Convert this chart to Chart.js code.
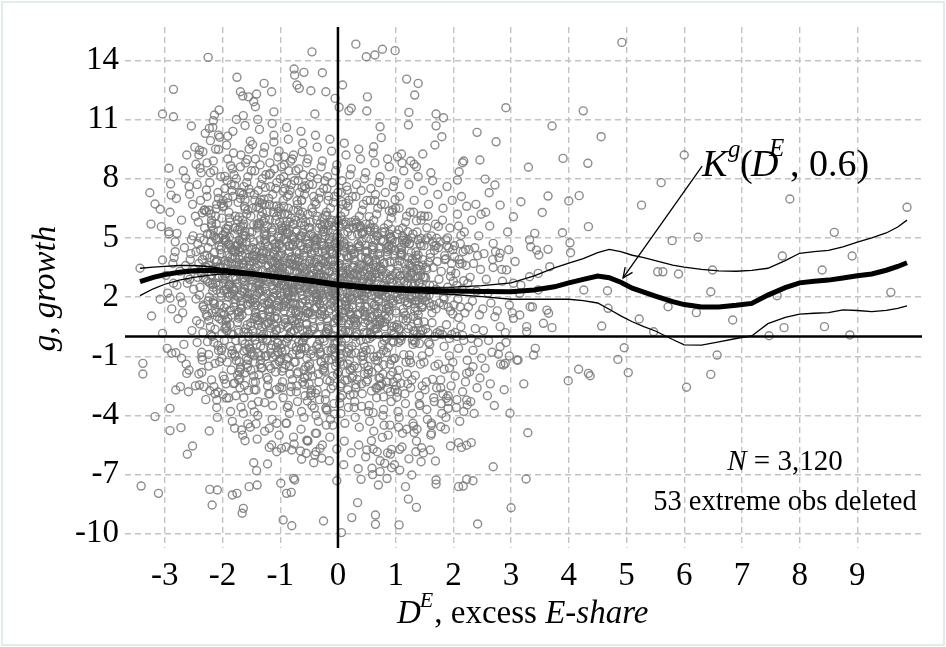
<!DOCTYPE html>
<html>
<head>
<meta charset="utf-8">
<script src="https://cdn.jsdelivr.net/npm/chart.js@4.4.1/dist/chart.umd.min.js"></script>
<style>
html,body{margin:0;padding:0;background:#fff;}
#wrap{width:946px;height:647px;position:relative;}
</style>
</head>
<body>
<div id="wrap"><canvas id="c" width="946" height="647"></canvas></div>
<script>
// ---------- DATA ----------
const xTicks = [-3,-2,-1,0,1,2,3,4,5,6,7,8,9];
const yTicks = [-10,-7,-4,-1,2,5,8,11,14];
const xRange = [-3.69, 10.12];
const yRange = [-10.72, 15.69];

// kernel regression K^g(D^E, 0.6) with its band
const kernelX     = [-3.43,-3.2,-3.0,-2.75,-2.5,-2.25,-2.0,-1.5,-1.0,-0.5,0,0.5,1.0,1.5,2.0,2.5,3.0,3.4,3.75,4.0,4.25,4.5,4.7,4.9,5.1,5.3,5.5,5.8,6.0,6.3,6.6,6.9,7.17,7.45,7.75,8.0,8.25,8.5,8.75,9.0,9.25,9.5,9.7,9.86];
const kernelFit   = [2.78,3.0,3.14,3.26,3.33,3.36,3.33,3.18,3.0,2.84,2.62,2.48,2.4,2.34,2.31,2.28,2.27,2.36,2.52,2.72,2.9,3.07,2.98,2.75,2.45,2.25,2.05,1.77,1.62,1.5,1.5,1.58,1.68,2.1,2.48,2.72,2.8,2.86,2.97,3.08,3.17,3.36,3.55,3.74];
const kernelUpper = [3.46,3.52,3.56,3.6,3.6,3.55,3.45,3.28,3.1,2.95,2.74,2.6,2.53,2.49,2.5,2.58,2.72,3.08,3.48,3.72,3.95,4.25,4.42,4.3,4.12,4.0,3.85,3.62,3.52,3.4,3.33,3.31,3.35,3.46,3.85,4.22,4.3,4.37,4.55,4.78,5.0,5.25,5.55,5.9];
const kernelLower = [2.07,2.42,2.65,2.86,3.0,3.1,3.18,3.07,2.9,2.72,2.5,2.36,2.27,2.2,2.13,2.02,1.89,1.89,1.9,1.89,1.82,1.7,1.38,1.05,0.75,0.5,0.28,-0.15,-0.42,-0.44,-0.27,-0.1,0.03,0.65,0.97,1.14,1.18,1.21,1.35,1.32,1.26,1.33,1.43,1.55];

const observations = [
[-2.98,3.1],[-2.93,5.2],[-2.88,1.4],[-2.84,4.0],[-2.96,-0.6],[-2.79,2.6],[-2.91,6.3],[-2.86,3.7],[-2.77,0.9],[-2.82,4.8],[-2.95,2.2],[-2.8,7.0],
[-2.74,3.3],[-2.71,5.9],[-2.69,1.2],[-2.66,4.5],[-2.63,-1.4],[-2.61,2.7],[-2.58,7.6],[-2.56,3.9],[-2.53,0.3],[-2.51,5.1],[-2.73,2.0],[-2.68,8.4],[-2.64,3.6],[-2.59,-2.8],[-2.55,4.2],[-2.52,6.7],[-2.7,1.7],[-2.62,9.2],[-2.57,2.9],[-2.67,-0.4],[-2.54,4.9],[-2.6,3.0],
[-2.49,3.4],[-2.47,6.1],[-2.45,0.8],[-2.43,4.7],[-2.41,-1.9],[-2.39,2.5],[-2.37,8.3],[-2.35,3.9],[-2.33,1.6],[-2.31,5.5],[-2.29,-3.2],[-2.27,7.1],[-2.26,2.8],[-2.48,9.6],[-2.46,4.3],[-2.44,-0.3],[-2.42,5.8],[-2.4,2.1],[-2.38,6.9],[-2.36,3.2],[-2.34,0.2],[-2.32,4.9],[-2.3,10.3],[-2.28,1.1],[-2.26,5.2],[-2.5,2.4],[-2.47,-2.5],[-2.44,7.7],[-2.41,3.7],[-2.38,4.4],[-2.35,-1.2],[-2.32,6.4],[-2.29,2.9],[-2.27,8.8],[-2.46,1.9],[-2.43,3.0],[-2.39,5.0],[-2.36,-0.8],[-2.31,4.1],[-2.28,3.5],
[-2.24,3.6],[-2.23,6.4],[-2.21,0.5],[-2.2,4.8],[-2.19,-2.2],[-2.17,2.3],[-2.16,8.9],[-2.14,3.9],[-2.13,1.4],[-2.11,5.7],[-2.1,-3.6],[-2.08,7.3],[-2.07,2.6],[-2.05,10.1],[-2.04,4.4],[-2.02,-0.7],[-2.01,6.0],[-2.25,1.8],[-2.22,7.8],[-2.2,3.1],[-2.18,0.0],[-2.15,5.1],[-2.12,9.5],[-2.09,1.0],[-2.06,4.6],[-2.03,2.2],[-2.24,-1.5],[-2.21,8.3],[-2.18,3.4],[-2.16,5.4],[-2.13,-2.9],[-2.1,6.7],[-2.08,3.0],[-2.05,0.9],[-2.02,4.2],[-2.23,2.0],[-2.19,5.9],[-2.15,-0.3],[-2.11,3.8],[-2.07,7.0],[-2.04,1.6],[-2.22,4.0],[-2.17,10.6],[-2.12,2.7],[-2.06,5.0],[-2.01,-1.1],[-2.2,6.2],[-2.14,3.3],[-2.09,-4.1],[-2.03,8.1],[-2.25,4.5],[-2.18,1.2],[-2.1,4.9],[-2.05,3.5],[-2.16,2.5],
[-1.99,3.5],[-1.98,6.6],[-1.96,0.4],[-1.95,4.9],[-1.94,-2.4],[-1.92,2.2],[-1.91,9.0],[-1.9,3.8],[-1.88,1.3],[-1.87,5.8],[-1.86,-3.8],[-1.84,7.4],[-1.83,2.5],[-1.82,10.4],[-1.8,4.3],[-1.79,-0.9],[-1.78,6.1],[-1.77,1.7],[-1.76,8.0],[-2.0,3.0],[-1.97,-0.2],[-1.95,5.3],[-1.93,9.7],[-1.91,0.9],[-1.89,4.7],[-1.87,2.1],[-1.85,-1.7],[-1.83,8.5],[-1.81,3.4],[-1.79,5.5],[-1.77,-3.0],[-1.99,6.9],[-1.96,3.1],[-1.94,0.8],[-1.92,4.1],[-1.9,2.0],[-1.88,6.0],[-1.86,-0.5],[-1.84,3.7],[-1.82,7.1],[-1.8,1.5],[-1.78,4.0],[-1.76,11.0],[-1.98,2.7],[-1.95,5.0],[-1.92,-1.3],[-1.89,6.3],[-1.86,3.3],[-1.83,-4.3],[-1.8,8.2],[-1.77,4.6],[-1.97,1.1],[-1.94,4.8],[-1.91,3.6],[-1.88,2.6],[-1.85,7.7],[-1.82,0.1],[-1.79,5.2],[-1.76,2.9],[-1.99,-2.0],[-1.96,7.5],[-1.93,2.4],[-1.9,5.6],[-1.87,0.6],[-1.84,4.4],[-1.81,9.3],[-1.78,-1.0],[-1.93,3.2],[-1.85,4.5],[-1.8,2.3],
[-1.74,3.4],[-1.73,6.8],[-1.72,0.2],[-1.71,4.9],[-1.7,-2.6],[-1.69,2.1],[-1.68,9.2],[-1.67,3.7],[-1.66,1.1],[-1.65,5.9],[-1.64,-3.9],[-1.63,7.6],[-1.62,2.4],[-1.61,10.7],[-1.6,4.2],[-1.59,-1.1],[-1.58,6.2],[-1.57,1.6],[-1.56,8.1],[-1.55,3.0],[-1.54,-0.4],[-1.53,5.3],[-1.52,9.9],[-1.51,0.7],[-1.75,4.6],[-1.73,2.0],[-1.71,-1.8],[-1.69,8.6],[-1.67,3.3],[-1.65,5.6],[-1.63,-3.1],[-1.61,6.9],[-1.59,3.1],[-1.57,0.6],[-1.55,4.0],[-1.53,1.9],[-1.51,6.1],[-1.74,-0.6],[-1.72,3.6],[-1.7,7.3],[-1.68,1.4],[-1.66,4.1],[-1.64,11.2],[-1.62,2.8],[-1.6,5.1],[-1.58,-1.4],[-1.56,6.4],[-1.54,3.2],[-1.52,-4.6],[-1.5,8.4],[-1.73,4.7],[-1.7,1.0],[-1.67,4.5],[-1.64,3.5],[-1.61,2.6],[-1.58,7.8],[-1.55,0.0],[-1.52,5.0],[-1.75,2.7],[-1.72,-2.2],[-1.69,7.0],[-1.66,2.3],[-1.63,5.7],[-1.6,0.4],[-1.57,4.4],[-1.54,9.5],[-1.51,-0.9],[-1.71,3.9],[-1.65,-5.0],[-1.59,4.8],[-1.53,2.2],[-1.74,5.4],[-1.68,1.8],[-1.62,6.6],[-1.56,2.5],[-1.5,3.8],[-1.66,-0.2],[-1.6,8.8],[-1.55,1.3],[-1.7,4.3],
[-1.49,3.2],[-1.48,6.5],[-1.47,0.0],[-1.46,4.8],[-1.45,-2.7],[-1.44,1.9],[-1.43,9.0],[-1.42,3.5],[-1.41,1.0],[-1.4,5.7],[-1.39,-4.0],[-1.38,7.4],[-1.37,2.2],[-1.36,10.5],[-1.35,4.0],[-1.34,-1.2],[-1.33,6.1],[-1.32,1.5],[-1.31,8.0],[-1.3,2.9],[-1.29,-0.6],[-1.28,5.2],[-1.27,9.6],[-1.26,0.6],[-1.5,4.4],[-1.48,1.8],[-1.46,-2.0],[-1.44,8.4],[-1.42,3.1],[-1.4,5.5],[-1.38,-3.3],[-1.36,6.8],[-1.34,3.0],[-1.32,0.5],[-1.3,3.9],[-1.28,1.7],[-1.26,6.0],[-1.49,-0.8],[-1.47,3.4],[-1.45,7.2],[-1.43,1.2],[-1.41,4.0],[-1.39,11.0],[-1.37,2.6],[-1.35,4.9],[-1.33,-1.6],[-1.31,6.3],[-1.29,3.0],[-1.27,-4.8],[-1.25,8.2],[-1.48,4.5],[-1.45,0.9],[-1.42,4.3],[-1.39,3.3],[-1.36,2.4],[-1.33,7.7],[-1.3,-0.1],[-1.27,4.9],[-1.5,2.5],[-1.47,-2.3],[-1.44,6.9],[-1.41,2.1],[-1.38,5.6],[-1.35,0.3],[-1.32,4.2],[-1.29,9.3],[-1.26,-1.0],[-1.46,3.8],[-1.4,-5.2],[-1.34,4.6],[-1.28,2.0],[-1.49,5.3],[-1.43,1.6],[-1.37,6.5],[-1.31,2.3],[-1.25,3.6],[-1.41,-0.4],[-1.35,8.7],[-1.3,1.1],[-1.45,4.1],[-1.38,2.8],[-1.33,3.7],[-1.27,6.7],[-1.44,-1.3],[-1.36,0.8],
[-1.24,3.0],[-1.23,6.3],[-1.22,-0.2],[-1.21,4.6],[-1.2,-2.9],[-1.19,1.7],[-1.18,8.8],[-1.17,3.3],[-1.16,0.8],[-1.15,5.5],[-1.14,-4.2],[-1.13,7.2],[-1.12,2.0],[-1.11,10.2],[-1.1,3.8],[-1.09,-1.4],[-1.08,5.9],[-1.07,1.3],[-1.06,7.8],[-1.05,2.7],[-1.04,-0.8],[-1.03,5.0],[-1.02,9.4],[-1.01,0.4],[-1.25,4.2],[-1.23,1.6],[-1.21,-2.2],[-1.19,8.2],[-1.17,2.9],[-1.15,5.3],[-1.13,-3.5],[-1.11,6.6],[-1.09,2.8],[-1.07,0.3],[-1.05,3.7],[-1.03,1.5],[-1.01,5.8],[-1.24,-1.0],[-1.22,3.2],[-1.2,7.0],[-1.18,1.0],[-1.16,3.8],[-1.14,10.8],[-1.12,2.4],[-1.1,4.7],[-1.08,-1.8],[-1.06,6.1],[-1.04,2.8],[-1.02,-5.0],[-1.0,8.0],[-1.23,4.3],[-1.2,0.7],[-1.17,4.1],[-1.14,3.1],[-1.11,2.2],[-1.08,7.5],[-1.05,-0.3],[-1.02,4.7],[-1.25,2.3],[-1.22,-2.5],[-1.19,6.7],[-1.16,1.9],[-1.13,5.4],[-1.1,0.1],[-1.07,4.0],[-1.04,9.1],[-1.01,-1.2],[-1.21,3.6],[-1.15,-5.5],[-1.09,4.4],[-1.03,1.8],[-1.24,5.1],[-1.18,1.4],[-1.12,6.3],[-1.06,2.1],[-1.0,3.4],[-1.16,-0.6],[-1.1,8.5],[-1.05,0.9],[-1.2,3.9],[-1.13,2.6],[-1.08,3.5],[-1.02,6.5],[-1.19,-1.5],[-1.11,0.6],[-1.22,5.6],[-1.14,4.9],[-1.07,-2.7],[-1.03,2.5],[-1.17,7.6],
[-0.99,2.9],[-0.98,6.2],[-0.97,-0.4],[-0.96,4.5],[-0.95,-3.1],[-0.94,1.6],[-0.93,8.7],[-0.92,3.2],[-0.91,0.7],[-0.9,5.4],[-0.89,-4.4],[-0.88,7.1],[-0.87,1.9],[-0.86,10.0],[-0.85,3.7],[-0.84,-1.5],[-0.83,5.8],[-0.82,1.2],[-0.81,7.7],[-0.8,2.6],[-0.79,-0.9],[-0.78,4.9],[-0.77,9.2],[-0.76,0.3],[-1.0,4.1],[-0.98,1.5],[-0.96,-2.3],[-0.94,8.1],[-0.92,2.8],[-0.9,5.2],[-0.88,-3.6],[-0.86,6.5],[-0.84,2.7],[-0.82,0.2],[-0.8,3.6],[-0.78,1.4],[-0.76,5.7],[-0.99,-1.1],[-0.97,3.1],[-0.95,6.9],[-0.93,0.9],[-0.91,3.7],[-0.89,10.6],[-0.87,2.3],[-0.85,4.6],[-0.83,-1.9],[-0.81,6.0],[-0.79,2.7],[-0.77,-5.1],[-0.75,7.9],[-0.98,4.2],[-0.95,0.6],[-0.92,4.0],[-0.89,3.0],[-0.86,2.1],[-0.83,7.4],[-0.8,-0.4],[-0.77,4.6],[-1.0,2.2],[-0.97,-2.6],[-0.94,6.6],[-0.91,1.8],[-0.88,5.3],[-0.85,0.0],[-0.82,3.9],[-0.79,9.0],[-0.76,-1.3],[-0.96,3.5],[-0.9,-5.6],[-0.84,4.3],[-0.78,1.7],[-0.99,5.0],[-0.93,1.3],[-0.87,6.2],[-0.81,2.0],[-0.75,3.3],[-0.91,-0.7],[-0.85,8.4],[-0.8,0.8],[-0.95,3.8],[-0.88,2.5],[-0.83,3.4],[-0.77,6.4],[-0.94,-1.6],[-0.86,0.5],[-0.97,5.5],[-0.89,4.8],[-0.82,-2.8],[-0.78,2.4],[-0.92,7.5],[-0.84,-3.9],[-0.98,8.6],[-0.8,5.1],[-0.87,-0.1],[-0.93,2.6],
[-0.74,2.7],[-0.73,5.9],[-0.72,-0.7],[-0.71,4.3],[-0.7,-3.3],[-0.69,1.3],[-0.68,8.5],[-0.67,3.0],[-0.66,0.5],[-0.65,5.1],[-0.64,-4.7],[-0.63,6.9],[-0.62,1.7],[-0.61,9.8],[-0.6,3.5],[-0.59,-1.7],[-0.58,5.6],[-0.57,1.0],[-0.56,7.5],[-0.55,2.4],[-0.54,-1.1],[-0.53,4.7],[-0.52,9.0],[-0.51,0.1],[-0.75,3.9],[-0.73,1.3],[-0.71,-2.5],[-0.69,7.9],[-0.67,2.6],[-0.65,5.0],[-0.63,-3.8],[-0.61,6.3],[-0.59,2.5],[-0.57,0.0],[-0.55,3.4],[-0.53,1.2],[-0.51,5.5],[-0.74,-1.3],[-0.72,2.9],[-0.7,6.7],[-0.68,0.7],[-0.66,3.5],[-0.64,10.4],[-0.62,2.1],[-0.6,4.4],[-0.58,-2.1],[-0.56,5.8],[-0.54,2.5],[-0.52,-5.3],[-0.5,7.7],[-0.73,4.0],[-0.7,0.4],[-0.67,3.8],[-0.64,2.8],[-0.61,1.9],[-0.58,7.2],[-0.55,-0.6],[-0.52,4.4],[-0.75,2.0],[-0.72,-2.8],[-0.69,6.4],[-0.66,1.6],[-0.63,5.1],[-0.6,-0.2],[-0.57,3.7],[-0.54,8.8],[-0.51,-1.5],[-0.71,3.3],[-0.65,-5.8],[-0.59,4.1],[-0.53,1.5],[-0.74,4.8],[-0.68,1.1],[-0.62,6.0],[-0.56,1.8],[-0.5,3.1],[-0.66,-0.9],[-0.6,8.2],[-0.55,0.6],[-0.7,3.6],[-0.63,2.3],[-0.58,3.2],[-0.52,6.2],[-0.69,-1.8],[-0.61,0.3],[-0.72,5.3],[-0.64,4.6],[-0.57,-3.0],[-0.53,2.2],[-0.67,7.3],[-0.59,-4.1],[-0.73,8.4],[-0.55,4.9],[-0.62,-0.3],[-0.68,2.4],
[-0.49,2.6],[-0.48,5.8],[-0.47,-0.9],[-0.46,4.2],[-0.45,-3.5],[-0.44,1.1],[-0.43,8.3],[-0.42,2.9],[-0.41,0.4],[-0.4,5.0],[-0.39,-4.9],[-0.38,6.7],[-0.37,1.5],[-0.36,9.6],[-0.35,3.4],[-0.34,-1.9],[-0.33,5.5],[-0.32,0.8],[-0.31,7.3],[-0.3,2.2],[-0.29,-1.3],[-0.28,4.6],[-0.27,8.9],[-0.26,-0.1],[-0.5,3.8],[-0.48,1.2],[-0.46,-2.7],[-0.44,7.7],[-0.42,2.5],[-0.4,4.8],[-0.38,-4.0],[-0.36,6.1],[-0.34,2.4],[-0.32,-0.2],[-0.3,3.2],[-0.28,1.0],[-0.26,5.3],[-0.49,-1.4],[-0.47,2.8],[-0.45,6.5],[-0.43,0.5],[-0.41,3.4],[-0.39,10.2],[-0.37,2.0],[-0.35,4.3],[-0.33,-2.3],[-0.31,5.7],[-0.29,2.3],[-0.27,-5.5],[-0.25,7.5],[-0.48,3.9],[-0.45,0.3],[-0.42,3.7],[-0.39,2.7],[-0.36,1.8],[-0.33,7.0],[-0.3,-0.8],[-0.27,4.3],[-0.5,1.9],[-0.47,-3.0],[-0.44,6.3],[-0.41,1.4],[-0.38,4.9],[-0.35,-0.4],[-0.32,3.6],[-0.29,8.6],[-0.26,-1.7],[-0.46,3.1],[-0.4,-6.0],[-0.34,3.9],[-0.28,1.3],[-0.49,4.7],[-0.43,0.9],[-0.37,5.9],[-0.31,1.6],[-0.25,3.0],[-0.41,-1.0],[-0.35,8.0],[-0.3,0.5],[-0.45,3.5],[-0.38,2.2],[-0.33,3.1],[-0.27,6.0],[-0.44,-2.0],[-0.36,0.1],[-0.47,5.2],[-0.39,4.5],[-0.32,-3.2],[-0.28,2.1],[-0.42,7.1],[-0.34,-4.3],[-0.48,8.1],[-0.3,4.8],[-0.37,-0.5],[-0.43,2.4],
[-0.24,2.5],[-0.23,5.7],[-0.22,-1.1],[-0.21,4.1],[-0.2,-3.7],[-0.19,0.9],[-0.18,8.1],[-0.17,2.8],[-0.16,0.3],[-0.15,4.9],[-0.14,-5.1],[-0.13,6.5],[-0.12,1.4],[-0.11,9.4],[-0.1,3.3],[-0.09,-2.0],[-0.08,5.4],[-0.07,0.7],[-0.06,7.1],[-0.05,2.1],[-0.04,-1.5],[-0.03,4.5],[-0.02,8.7],[-0.01,-0.3],[-0.25,3.7],[-0.23,1.1],[-0.21,-2.9],[-0.19,7.5],[-0.17,2.4],[-0.15,4.7],[-0.13,-4.2],[-0.11,5.9],[-0.09,2.3],[-0.07,-0.4],[-0.05,3.1],[-0.03,0.9],[-0.01,5.2],[-0.24,-1.6],[-0.22,2.7],[-0.2,6.3],[-0.18,0.4],[-0.16,3.3],[-0.14,10.0],[-0.12,1.9],[-0.1,4.2],[-0.08,-2.5],[-0.06,5.6],[-0.04,2.2],[-0.02,-5.7],[0.0,7.3],[-0.23,3.8],[-0.2,0.2],[-0.17,3.6],[-0.14,2.6],[-0.11,1.7],[-0.08,6.8],[-0.05,-1.0],[-0.02,4.2],[-0.25,1.8],[-0.22,-3.2],[-0.19,6.1],[-0.16,1.3],[-0.13,4.8],[-0.1,-0.6],[-0.07,3.5],[-0.04,8.4],[-0.01,-1.9],[-0.21,3.0],[-0.15,-6.3],[-0.09,3.8],[-0.03,1.2],[-0.24,4.6],[-0.18,0.8],[-0.12,5.8],[-0.06,1.5],[0.0,2.9],[-0.16,-1.2],[-0.1,7.8],[-0.05,0.4],[-0.2,3.4],[-0.13,2.1],[-0.08,3.0],[-0.02,5.9],[-0.19,-2.2],[-0.11,0.0],[-0.22,5.1],[-0.14,4.4],[-0.07,-3.4],[-0.03,2.0],[-0.17,6.9],[-0.09,-4.5],[-0.23,7.9],[-0.05,4.7],[-0.12,-0.7],[-0.18,2.3],
[0.01,2.4],[0.02,5.6],[0.03,-1.3],[0.04,4.0],[0.05,-3.9],[0.06,0.8],[0.07,7.9],[0.08,2.7],[0.09,0.2],[0.1,4.8],[0.11,-5.3],[0.12,6.3],[0.13,1.3],[0.14,9.2],[0.15,3.2],[0.16,-2.2],[0.17,5.3],[0.18,0.6],[0.19,6.9],[0.2,2.0],[0.21,-1.7],[0.22,4.4],[0.23,8.5],[0.24,-0.5],[0.0,3.6],[0.02,1.0],[0.04,-3.1],[0.06,7.3],[0.08,2.3],[0.1,4.6],[0.12,-4.4],[0.14,5.8],[0.16,2.2],[0.18,-0.6],[0.2,3.0],[0.22,0.8],[0.24,5.1],[0.01,-1.8],[0.03,2.6],[0.05,6.1],[0.07,0.3],[0.09,3.2],[0.11,9.8],[0.13,1.8],[0.15,4.1],[0.17,-2.7],[0.19,5.5],[0.21,2.1],[0.23,-5.9],[0.25,7.1],[0.02,3.7],[0.05,0.1],[0.08,3.5],[0.11,2.5],[0.14,1.6],[0.17,6.6],[0.2,-1.2],[0.23,4.1],[0.0,1.7],[0.03,-3.4],[0.06,5.9],[0.09,1.2],[0.12,4.7],[0.15,-0.8],[0.18,3.4],[0.21,8.2],[0.24,-2.1],[0.04,2.9],[0.1,-6.5],[0.16,3.7],[0.22,1.1],[0.01,4.5],[0.07,0.7],[0.13,5.7],[0.19,1.4],[0.25,2.8],[0.09,-1.4],[0.15,7.6],[0.2,0.3],[0.05,3.3],[0.12,2.0],[0.17,2.9],[0.23,5.8],[0.06,-2.4],[0.14,-0.1],[0.03,5.0],[0.11,4.3],[0.18,-3.6],[0.22,1.9],[0.08,6.7],
[0.26,2.3],[0.27,5.5],[0.28,-1.5],[0.29,3.9],[0.3,-4.1],[0.31,0.7],[0.32,7.7],[0.33,2.6],[0.34,0.1],[0.35,4.7],[0.36,-5.5],[0.37,6.1],[0.38,1.2],[0.39,9.0],[0.4,3.1],[0.41,-2.4],[0.42,5.2],[0.43,0.5],[0.44,6.7],[0.45,1.9],[0.46,-1.9],[0.47,4.3],[0.48,8.3],[0.49,-0.7],[0.25,3.5],[0.27,0.9],[0.29,-3.3],[0.31,7.1],[0.33,2.2],[0.35,4.5],[0.37,-4.6],[0.39,5.6],[0.41,2.1],[0.43,-0.8],[0.45,2.9],[0.47,0.7],[0.49,5.0],[0.26,-2.0],[0.28,2.5],[0.3,5.9],[0.32,0.2],[0.34,3.1],[0.36,9.5],[0.38,1.7],[0.4,4.0],[0.42,-2.9],[0.44,5.3],[0.46,2.0],[0.48,-6.1],[0.5,6.9],[0.27,3.6],[0.3,0.0],[0.33,3.4],[0.36,2.4],[0.39,1.5],[0.42,6.4],[0.45,-1.4],[0.48,4.0],[0.25,1.6],[0.28,-3.6],[0.31,5.7],[0.34,1.1],[0.37,4.6],[0.4,-1.0],[0.43,3.3],[0.46,8.0],[0.49,-2.3],[0.29,2.8],[0.35,-6.7],[0.41,3.6],[0.47,1.0],[0.26,4.4],[0.32,0.6],[0.38,5.6],[0.44,1.3],[0.5,2.7],[0.34,-1.6],[0.4,7.4],[0.45,0.2],[0.3,3.2],[0.37,1.9],[0.42,2.8],[0.48,5.7],[0.31,-2.6],[0.39,-0.2],
[0.51,2.2],[0.52,5.4],[0.53,-1.7],[0.54,3.8],[0.55,-4.3],[0.56,0.6],[0.57,7.5],[0.58,2.5],[0.59,0.0],[0.6,4.6],[0.61,-5.7],[0.62,5.9],[0.63,1.1],[0.64,8.8],[0.65,3.0],[0.66,-2.6],[0.67,5.1],[0.68,0.4],[0.69,6.5],[0.7,1.8],[0.71,-2.1],[0.72,4.2],[0.73,8.1],[0.74,-0.9],[0.5,3.4],[0.52,0.8],[0.54,-3.5],[0.56,6.9],[0.58,2.1],[0.6,4.4],[0.62,-4.8],[0.64,5.4],[0.66,2.0],[0.68,-1.0],[0.7,2.8],[0.72,0.6],[0.74,4.9],[0.51,-2.2],[0.53,2.4],[0.55,5.7],[0.57,0.1],[0.59,3.0],[0.61,9.3],[0.63,1.6],[0.65,3.9],[0.67,-3.1],[0.69,5.1],[0.71,1.9],[0.73,-6.3],[0.75,6.7],[0.52,3.5],[0.55,-0.1],[0.58,3.3],[0.61,2.3],[0.64,1.4],[0.67,6.2],[0.7,-1.6],[0.73,3.9],[0.5,1.5],[0.53,-3.8],[0.56,5.5],[0.59,1.0],[0.62,4.5],[0.65,-1.2],[0.68,3.2],[0.71,7.8],[0.74,-2.5],[0.54,2.7],[0.6,-7.0],[0.66,3.5],[0.72,0.9],[0.51,4.3],[0.57,0.5],[0.63,5.5],[0.69,1.2],[0.75,2.6],[0.59,-1.8],[0.65,7.2],[0.7,0.1],[0.55,3.1],
[0.76,2.1],[0.77,5.3],[0.78,-1.9],[0.79,3.7],[0.8,-4.5],[0.81,0.5],[0.82,7.3],[0.83,2.4],[0.84,-0.1],[0.85,4.5],[0.86,-5.9],[0.87,5.7],[0.88,1.0],[0.89,8.6],[0.9,2.9],[0.91,-2.8],[0.92,5.0],[0.93,0.3],[0.94,6.3],[0.95,1.7],[0.96,-2.3],[0.97,4.1],[0.98,7.9],[0.99,-1.1],[0.75,3.3],[0.77,0.7],[0.79,-3.7],[0.81,6.7],[0.83,2.0],[0.85,4.3],[0.87,-5.0],[0.89,5.2],[0.91,1.9],[0.93,-1.2],[0.95,2.7],[0.97,0.5],[0.99,4.8],[0.76,-2.4],[0.78,2.3],[0.8,5.5],[0.82,0.0],[0.84,2.9],[0.86,9.0],[0.88,1.5],[0.9,3.8],[0.92,-3.3],[0.94,4.9],[0.96,1.8],[0.98,-6.5],[1.0,6.5],[0.77,3.4],[0.8,-0.2],[0.83,3.2],[0.86,2.2],[0.89,1.3],[0.92,6.0],[0.95,-1.8],[0.98,3.8],[0.75,1.4],[0.78,-4.0],[0.81,5.3],[0.84,0.9],[0.87,4.4],[0.9,-1.4],[0.93,3.1],[0.96,7.6],[0.99,-2.7],[0.79,2.6],[0.85,-7.2],[0.91,3.4],
[1.01,2.0],[1.02,5.2],[1.03,-2.1],[1.04,3.6],[1.05,-4.6],[1.06,0.4],[1.07,7.1],[1.08,2.3],[1.09,-0.2],[1.1,4.4],[1.11,-5.6],[1.12,5.5],[1.13,0.9],[1.14,8.4],[1.15,2.8],[1.16,-2.9],[1.17,4.9],[1.18,0.2],[1.19,6.1],[1.2,1.6],[1.21,-2.4],[1.22,4.0],[1.23,7.7],[1.24,-1.2],[1.0,3.2],[1.02,0.6],[1.04,-3.8],[1.06,6.5],[1.08,1.9],[1.1,4.2],[1.12,-4.9],[1.14,5.0],[1.16,1.8],[1.18,-1.3],[1.2,2.6],[1.22,0.4],[1.24,4.7],[1.01,-2.5],[1.03,2.2],[1.05,5.4],[1.07,-0.1],[1.09,2.8],[1.11,8.8],[1.13,1.4],[1.15,3.7],[1.17,-3.4],[1.19,4.8],[1.21,1.7],[1.23,-6.2],[1.25,6.3],[1.02,3.3],[1.05,-0.3],[1.08,3.1],[1.11,2.1],[1.14,1.2],[1.17,5.8],[1.2,-1.9],[1.23,3.7],[1.0,1.3],[1.06,-4.1],[1.12,5.1],[1.18,0.8],
[1.26,1.9],[1.27,5.0],[1.28,-2.2],[1.29,3.5],[1.3,-4.4],[1.31,0.3],[1.32,6.9],[1.33,2.2],[1.34,-0.3],[1.35,4.3],[1.36,-5.3],[1.37,5.3],[1.38,0.8],[1.39,8.1],[1.4,2.7],[1.41,-3.0],[1.42,4.7],[1.43,0.1],[1.44,5.9],[1.45,1.5],[1.46,-2.5],[1.47,3.9],[1.48,7.4],[1.49,-1.3],[1.25,3.1],[1.27,0.5],[1.29,-3.9],[1.31,6.3],[1.33,1.8],[1.35,4.1],[1.37,-4.7],[1.39,4.9],[1.41,1.7],[1.43,-1.4],[1.45,2.5],[1.47,0.3],[1.49,4.6],[1.26,-2.6],[1.28,2.1],[1.3,5.2],[1.32,-0.2],[1.34,2.7],[1.36,8.6],[1.38,1.3],[1.4,3.6],[1.42,-3.5],[1.44,4.6],[1.46,1.6],[1.48,-5.9],[1.5,6.1],[1.27,3.2],[1.3,-0.4],[1.33,3.0],[1.36,2.0],[1.39,1.1],
[1.51,1.8],[1.52,4.9],[1.53,-2.3],[1.54,3.4],[1.55,-4.2],[1.56,0.2],[1.57,6.7],[1.58,2.1],[1.59,-0.4],[1.6,4.2],[1.61,-5.0],[1.62,5.1],[1.63,0.7],[1.64,7.9],[1.65,2.6],[1.66,-3.1],[1.67,4.6],[1.68,0.0],[1.69,5.7],[1.7,1.4],[1.71,-2.6],[1.72,3.8],[1.73,7.2],[1.74,-1.4],[1.5,3.0],[1.52,0.4],[1.54,-3.7],[1.56,6.1],[1.58,1.7],[1.6,4.0],[1.62,-4.5],[1.64,4.8],[1.66,1.6],[1.68,-1.5],[1.7,2.4],[1.72,0.2],[1.74,4.5],[1.51,-2.7],[1.53,2.0],[1.55,5.0],[1.57,-0.3],[1.59,2.6],[1.61,8.3],[1.63,1.2],[1.65,3.5],[1.67,-3.3],
[1.76,1.7],[1.77,4.8],[1.78,-2.2],[1.79,3.3],[1.8,-3.9],[1.81,0.1],[1.82,6.5],[1.83,2.0],[1.84,-0.5],[1.85,4.1],[1.86,-4.7],[1.87,4.9],[1.88,0.6],[1.89,7.6],[1.9,2.5],[1.91,-3.0],[1.92,4.5],[1.93,-0.1],[1.94,5.5],[1.95,1.3],[1.96,-2.5],[1.97,3.7],[1.98,6.9],[1.99,-1.3],[1.75,2.9],[1.77,0.3],[1.79,-3.4],[1.81,5.9],[1.83,1.6],[1.85,3.9],[1.87,-4.1],[1.89,4.6],[1.91,1.5],[1.93,-1.6],[1.95,2.3],[1.97,0.1],[1.99,4.4],[1.78,-2.6],[1.84,1.9],[1.9,5.0],
[2.01,1.6],[2.02,4.6],[2.03,-2.0],[2.04,3.2],[2.05,-3.6],[2.06,0.0],[2.07,6.2],[2.08,1.9],[2.09,-0.6],[2.1,3.9],[2.11,-4.3],[2.12,4.7],[2.13,0.5],[2.14,7.1],[2.15,2.4],[2.16,-2.8],[2.17,4.3],[2.18,-0.2],[2.19,5.3],[2.2,1.2],[2.21,-2.3],[2.22,3.6],[2.23,6.6],[2.24,-1.2],[2.0,2.8],[2.03,0.2],[2.06,-3.2],[2.09,5.6],[2.12,1.5],[2.15,3.7],[2.18,-3.8],[2.21,4.4],
[2.26,1.5],[2.27,4.4],[2.28,-1.8],[2.29,3.0],[2.3,-3.3],[2.31,-0.1],[2.32,5.9],[2.33,1.8],[2.34,-0.7],[2.35,3.7],[2.36,-3.9],[2.37,4.5],[2.38,0.4],[2.39,6.7],[2.4,2.3],[2.41,-2.6],[2.42,4.1],[2.43,-0.3],[2.44,5.1],[2.45,1.1],[2.46,-2.1],[2.47,3.4],[2.48,6.2],[2.49,-1.1],[2.25,2.7],
[2.51,1.4],[2.53,4.2],[2.55,-1.6],[2.57,2.9],[2.59,-3.0],[2.61,-0.2],[2.63,5.6],[2.65,1.7],[2.67,-0.8],[2.69,3.5],[2.71,-3.5],[2.73,4.3],[2.52,0.3],[2.56,6.3],[2.6,2.2],[2.64,-2.4],[2.68,3.9],[2.72,1.0],
[2.76,1.3],[2.79,4.0],[2.82,-1.4],[2.85,2.8],[2.88,-2.7],[2.91,-0.3],[2.94,5.3],[2.97,1.6],[2.78,-0.9],[2.84,3.4],[2.9,0.2],[2.96,4.4],
[3.02,1.2],[3.07,3.8],[3.12,-1.2],[3.17,2.6],[3.22,-2.4],[3.27,0.5],[3.32,4.9],[3.37,1.5],[3.42,-0.6],[3.47,3.2],
[-2.31,1.37],[-1.87,4.62],[-2.08,-0.45],[-1.66,2.88],[-2.19,5.73],[-1.72,0.93],[-1.95,3.21],[-2.36,-1.82],[-1.61,6.47],[-2.02,2.05],[-1.79,-2.36],[-2.27,4.11],[-1.68,1.58],[-1.91,7.02],[-2.13,0.37],[-1.83,3.96],[-2.22,2.71],[-1.63,-0.74],[-1.99,5.16],[-2.34,3.44],[-1.76,2.49],[-2.05,-1.28],[-1.7,4.85],[-2.16,1.82],[-1.93,-3.12],[-1.64,3.63],[-2.28,6.34],[-1.85,0.12],[-2.1,3.78],[-1.74,5.91],[-2.39,0.64],[-1.97,1.46],[-1.62,2.26],[-2.24,-0.91],[-1.81,4.38],[-2.0,6.58],[-1.69,-1.67],[-2.12,4.97],[-1.89,2.63],[-2.33,2.98],[-1.77,-0.21],[-2.06,3.07],[-1.65,4.44],[-2.2,0.08],[-1.94,5.47],[-1.73,1.21],[-2.15,-2.54],[-1.86,3.36],[-2.26,1.03],[-1.67,7.29],
[-1.44,1.72],[-1.12,4.26],[-1.58,-0.67],[-0.97,2.93],[-1.29,5.84],[-1.51,0.52],[-1.03,3.58],[-1.37,-1.94],[-0.92,6.21],[-1.22,2.17],[-1.55,-2.73],[-1.08,4.69],[-1.33,1.09],[-0.95,7.36],[-1.47,0.28],[-1.17,3.11],[-1.41,2.55],[-0.99,-0.59],[-1.26,5.33],[-1.53,3.82],[-1.06,2.34],[-1.35,-1.41],[-0.94,4.93],[-1.19,1.64],[-1.49,-3.47],[-1.01,3.27],[-1.31,6.73],[-1.56,0.19],[-1.14,3.74],[-0.91,5.62],[-1.39,0.81],[-1.21,1.35],[-0.98,2.04],[-1.45,-0.98],[-1.1,4.17],[-1.28,6.96],[-1.57,-1.58],[-1.04,5.08],[-1.36,2.71],[-0.93,3.03],[-1.24,-0.14],[-1.5,3.15],[-1.07,4.51],[-1.32,0.02],[-0.96,5.38],[-1.18,1.26],[-1.43,-2.29],[-1.02,3.49],[-1.3,0.97],[-1.54,7.48],
[-0.83,1.66],[-0.41,4.33],[-0.72,-0.52],[-0.26,2.82],[-0.64,5.77],[-0.87,0.46],[-0.35,3.52],[-0.58,-2.11],[-0.22,6.15],[-0.77,2.24],[-0.47,-2.86],[-0.69,4.74],[-0.31,1.13],[-0.85,7.19],[-0.53,0.33],[-0.24,3.06],[-0.79,2.47],[-0.44,-0.71],[-0.61,5.28],[-0.29,3.89],[-0.88,2.38],[-0.56,-1.53],[-0.37,4.88],[-0.75,1.69],[-0.21,-3.62],[-0.66,3.22],[-0.4,6.82],[-0.81,0.24],[-0.49,3.69],[-0.27,5.56],[-0.71,0.87],[-0.55,1.31],[-0.33,2.11],[-0.86,-1.07],[-0.45,4.24],[-0.63,6.91],[-0.23,-1.76],[-0.76,5.02],[-0.52,2.66],[-0.3,3.11],[-0.68,-0.27],[-0.42,3.19],[-0.84,4.57],[-0.59,-0.06],[-0.25,5.43],[-0.73,1.18],[-0.5,-2.41],[-0.34,3.55],[-0.8,0.91],[-0.62,7.55],
[-0.14,1.61],[0.27,4.21],[-0.06,-0.61],[0.43,2.77],[0.08,5.69],[-0.18,0.41],[0.36,3.47],[0.12,-2.23],[0.54,6.08],[-0.09,2.19],[0.21,-2.97],[0.03,4.66],[0.47,1.07],[-0.16,7.11],[0.17,0.22],[0.58,3.01],[-0.03,2.42],[0.31,-0.83],[0.1,5.21],[0.5,3.84],[-0.12,2.31],[0.24,-1.62],[0.41,4.81],[0.06,1.62],[-0.19,-3.74],[0.33,3.17],[0.14,6.75],[0.56,0.17],[-0.07,3.62],[0.38,5.49],[0.01,0.79],[0.19,1.24],[0.45,2.06],[-0.11,-1.16],[0.29,4.19],[0.07,6.84],[0.52,-1.88],[-0.15,4.96],[0.22,2.61],[0.39,3.06],[-0.04,-0.34],[0.26,3.13],[0.11,4.52],[0.49,-0.13],[-0.17,5.37],[0.35,1.12],[0.04,-2.52],[0.57,3.48],[-0.01,0.86],[0.16,7.42],
[0.66,1.54],[1.08,4.12],[0.79,-0.69],[1.27,2.68],[0.93,5.43],[0.62,0.36],[1.19,3.41],[0.85,-2.31],[1.36,5.86],[0.71,2.14],[1.02,-3.08],[0.88,4.59],[1.31,1.02],[0.64,6.88],[0.97,0.18],[1.39,2.96],[0.76,2.37],[1.14,-0.92],[0.91,5.07],[1.33,3.78],[0.68,2.26],[1.05,-1.71],[1.24,4.72],[0.83,1.57],[0.61,-3.86],[1.16,3.12],[0.95,6.42],[1.37,0.11],[0.73,3.56],[1.21,5.31],[0.81,0.74],[1.01,1.19],[1.28,2.01],[0.69,-1.24],[1.11,4.13],[0.89,6.37],[1.34,-1.97],[0.65,4.88],[1.04,2.57],[1.22,2.99],[0.77,-0.41],[1.07,3.07],[0.92,4.46],[1.29,-0.19],[0.63,5.29],[1.17,1.08],[0.86,-2.63],[1.38,3.41],[0.74,0.83],[0.99,6.93],
[1.46,1.48],[1.87,3.94],[1.58,-0.77],[2.06,2.59],[1.71,4.98],[1.43,0.31],[1.96,3.33],[1.64,-2.17],[2.13,5.12],[1.52,2.09],[1.82,-2.91],[1.67,4.36],[2.09,0.96],[1.44,6.12],[1.76,0.13],[2.18,2.83],[1.55,2.32],[1.93,-0.98],[1.7,4.61],[2.11,3.68],[1.49,2.21],[1.84,-1.66],[2.02,4.04],[1.61,1.52],[1.41,-3.41],[1.95,3.05],[1.74,5.58],[2.16,0.06],[1.53,3.49],[1.99,1.14],
[-2.17,2.64],[-1.94,0.47],[-1.43,3.91],[-1.79,1.88],[-1.26,4.72],[-2.04,3.53],[-1.61,-0.38],[-1.35,2.29],[-1.88,5.04],[-2.11,1.22],[-1.52,3.17],[-1.73,4.39],[-1.22,0.68],[-1.98,2.91],[-1.46,5.66],[-1.67,1.44],[-2.14,4.26],[-1.31,3.38],[-1.84,-0.87],[-1.56,2.02],[-1.27,5.12],[-2.01,0.83],[-1.75,3.74],[-1.39,1.57],[-1.9,4.67],[-2.19,3.12],[-1.63,0.22],[-1.48,4.08],[-1.81,2.44],[-1.24,2.87],[-2.07,5.37],[-1.58,1.93],[-1.34,-0.49],[-1.96,3.84],[-1.7,5.43],[-1.44,0.98],[-2.1,2.36],[-1.29,4.29],[-1.86,1.34],[-1.53,3.61],[-1.76,-1.22],[-2.02,4.53],[-1.41,2.68],[-1.65,4.96],[-1.21,1.78],[-1.92,0.29],[-1.5,3.29],[-2.16,1.71],[-1.37,5.76],[-1.78,3.02],
[-0.94,2.58],[-1.17,0.43],[-0.26,3.86],[-0.43,1.82],[-0.79,4.67],[-0.61,3.49],[-1.04,-0.33],[-0.88,2.24],[-0.35,4.98],[-0.52,1.17],[-1.11,3.12],[-0.22,4.34],[-0.73,0.62],[-0.46,2.86],[-0.98,5.61],[-1.14,1.39],[-0.67,4.21],[-0.84,3.33],[-0.31,-0.92],[-0.27,1.97],[-0.56,5.06],[-0.75,0.78],[-1.01,3.69],[-0.9,1.52],[-0.39,4.62],[-0.63,3.07],[-1.19,0.17],[-0.81,4.03],[-0.48,2.39],[-1.07,2.82],[-0.24,5.31],[-0.34,1.88],[-0.58,-0.54],[-0.7,3.79],[-0.96,5.38],[-1.1,0.93],[-0.44,2.31],[-0.86,4.24],[-0.29,1.29],[-0.76,3.56],[-1.02,-1.27],[-0.53,4.48],[-0.65,2.63],[-0.41,4.91],[-0.92,1.73],[-0.21,0.24],[-1.16,3.24],[-0.5,1.66],[-0.78,5.71],[-0.37,2.97],
[0.39,2.53],[0.65,0.38],[-0.17,3.81],[0.12,1.77],[0.48,4.62],[0.74,3.44],[0.06,-0.28],[-0.04,2.19],[0.57,4.93],[0.21,1.12],[0.78,3.07],[-0.11,4.29],[0.27,0.57],[0.54,2.81],[0.33,5.56],[0.02,1.34],[0.69,4.16],[-0.14,3.28],[0.44,-0.97],[0.16,1.92],[-0.01,5.01],[0.73,0.73],[0.61,3.64],[0.25,1.47],[0.37,4.57],[0.1,3.02],[-0.19,0.12],[0.19,3.98],[0.76,2.34],[0.52,2.77],[0.42,5.26],[-0.07,1.83],[0.04,-0.59],[0.66,3.74],[0.56,5.33],[0.3,0.88],[0.71,2.26],[-0.1,4.19],[0.47,1.24],[0.14,3.51],[-0.02,-1.32],[0.24,4.43],[0.35,2.58],[0.79,4.86],[0.59,1.68],[0.5,0.19],[0.08,3.19],[0.63,1.61],[-0.16,5.66],[0.22,2.92],
[0.83,2.48],[1.06,0.33],[1.57,3.76],[1.21,1.72],[0.88,4.57],[1.44,3.39],[0.96,-0.23],[1.35,2.14],[1.12,4.88],[0.81,1.07],[1.48,3.02],[1.27,4.24],[0.93,0.52],[1.02,2.76],[1.54,5.51],[1.33,1.29],[0.86,4.11],[1.19,3.23],[1.46,-0.98],[1.04,1.87],[0.91,4.96],[1.39,0.68],[1.25,3.59],[0.84,1.42],[1.1,4.52],[1.52,2.97],[0.97,0.07],[1.29,3.93],[1.16,2.29],[1.42,2.72],
[-2.13,-1.37],[-1.62,-2.48],[-1.08,-0.96],[-0.53,-3.27],[0.14,-1.84],[0.68,-2.63],[-1.89,-3.11],[-1.31,-1.58],[-0.79,-2.19],[-0.18,-0.72],[0.41,-3.54],[0.97,-1.12],[-2.01,-0.59],[-1.45,-3.82],[-0.91,-1.43],[-0.36,-2.71],[0.23,-0.88],[0.79,-3.06],[-1.74,-1.96],[-1.18,-2.92],[-0.64,-0.64],[-0.06,-3.93],[0.52,-1.51],[1.09,-2.37],[-1.97,-2.17],[-1.39,-0.83],[-0.86,-3.49],[-0.29,-1.26],[0.31,-2.44],[0.87,-0.57],[-1.56,-1.18],[-1.01,-2.57],[-0.47,-1.69],[0.08,-2.98],[0.62,-1.04],[-1.83,-0.71],[-1.27,-3.35],[-0.71,-1.88],[-0.14,-2.26],[0.46,-0.53],[1.03,-2.82],[-2.08,-2.81],[-1.51,-1.71],[-0.97,-0.77],[-0.41,-3.63],[0.17,-1.39],[0.73,-2.09],[-1.68,-3.58],[-1.13,-1.06],[-0.58,-2.43],
[-2.28,7.43],[-1.86,8.66],[-1.41,6.57],[-0.93,9.12],[-2.07,9.48],[-1.64,7.18],[-1.17,8.27],[-0.71,6.88],[-2.35,6.26],[-1.92,7.91],[-1.48,9.73],[-1.03,6.34],[-0.58,7.63],[-2.15,8.41],[-1.71,6.06],[-1.26,7.56],[-0.82,8.89],[-2.02,6.73],[-1.57,8.97],[-1.11,9.86],[-0.66,6.21],[-2.21,9.93],[-1.79,7.67],[-1.34,6.93],[-0.89,7.81],[-1.96,8.12],[-1.52,7.29],[-1.06,6.62],[-0.62,9.36],[-2.11,6.47],
[-1.93,1.62],[-1.41,4.47],[-1.07,0.36],[-1.68,3.12],[-0.86,5.23],[-1.54,-0.58],[-1.21,2.79],[-1.87,4.02],[-0.95,1.91],[-1.36,5.68],[-1.74,0.71],[-1.12,3.36],[-1.98,2.33],[-0.89,-0.27],[-1.46,1.49],[-1.63,5.12],[-1.03,4.08],[-1.29,0.11],[-1.82,2.97],[-0.83,3.72],[-1.57,2.18],[-1.16,-0.84],[-1.91,5.44],[-1.33,3.93],[-0.99,2.64],[-1.71,1.26],[-1.25,4.81],[-1.49,3.04],[-0.91,0.84],[-1.79,4.29],[-1.06,1.57],[-1.44,-0.19],[-1.95,3.66],[-1.19,5.92],[-0.84,2.21],[-1.6,3.83],[-1.38,0.57],[-1.01,4.63],[-1.85,1.08],[-1.27,2.42],[-1.69,5.57],[-0.97,3.18],[-1.52,1.73],[-1.14,-0.43],[-1.89,2.52],[-1.31,4.36],[-0.88,5.84],[-1.76,3.29],[-1.09,1.02],[-1.47,2.86],
[-0.73,1.58],[-0.21,4.41],[0.13,0.31],[-0.48,3.08],[0.34,5.19],[-0.64,-0.61],[-0.01,2.74],[-0.67,3.97],[0.25,1.87],[-0.16,5.63],[-0.54,0.66],[0.08,3.31],[-0.78,2.29],[0.31,-0.31],[-0.26,1.44],[-0.43,5.07],[0.17,4.03],[-0.09,0.06],[-0.62,2.92],[0.37,3.67],[-0.37,2.13],[0.04,-0.89],[-0.71,5.39],[-0.13,3.88],[0.21,2.59],[-0.51,1.21],[-0.05,4.76],[-0.29,2.99],[0.29,0.79],[-0.59,4.24],[0.14,1.52],[-0.24,-0.24],[-0.75,3.61],[0.01,5.87],[0.36,2.16],[-0.4,3.78],[-0.18,0.52],[0.19,4.58],[-0.65,1.03],[-0.07,2.37],[-0.49,5.52],[0.23,3.13],[-0.32,1.68],[0.06,-0.48],[-0.69,2.47],[-0.11,4.31],[0.32,5.79],[-0.56,3.24],[0.11,0.97],[-0.27,2.81],
[0.47,1.53],[0.99,4.36],[1.33,0.26],[0.72,3.03],[1.44,4.97],[0.56,-0.66],[1.19,2.69],[0.53,3.92],[1.35,1.82],[0.94,4.58],[0.66,0.61],[1.28,3.26],[0.42,2.24],[1.41,-0.36],[0.84,1.39],[0.77,4.82],[1.37,3.98],[1.11,0.01],[0.58,2.87],[1.47,3.62],[0.83,2.08],[1.24,-0.94],[0.49,4.34],[1.07,3.83],[1.31,2.54],[0.69,1.16],[1.15,4.71],[0.91,2.94],[1.49,0.74],[0.61,4.19],[1.34,1.47],[0.96,-0.29],[0.45,3.56],[1.21,4.92],[1.46,2.11],[0.8,3.73],[1.02,0.47],[1.39,4.13],[0.55,0.98],[1.13,2.32],[0.71,4.47],[1.43,3.08],[0.88,1.63],[1.26,-1.33],[0.51,2.42],[1.09,4.26],[1.36,3.44],[0.64,3.19],[1.21,0.92],[0.93,2.76],
[-2.34,1.51],[-1.77,4.31],[-2.07,-0.71],[-1.62,2.98],[-2.21,5.17],[-1.93,0.56],[-2.38,3.26],[-1.69,-1.56],[-2.12,6.11],[-1.83,2.14],[-2.26,-0.26],[-1.66,4.75],[-2.03,1.19],[-2.31,6.42],[-1.73,0.32],[-2.17,3.41],[-1.88,2.66],[-2.36,-1.04],[-1.61,5.32],[-2.09,3.87],[-1.8,2.38],[-2.24,0.81],[-1.97,4.88],[-2.14,1.66],[-1.7,-2.11],[-2.29,3.54],[-1.91,6.77],[-2.01,0.14],[-1.64,3.71],[-2.19,5.61],
[-1.71,-1.27],[-1.23,-2.08],[-0.66,-0.92],[-0.12,-2.64],[0.43,-1.21],[0.91,-1.97],[-1.52,-0.63],[-0.97,-1.76],[-0.39,-2.87],[0.19,-0.69],[0.71,-2.49],[-1.81,-2.39],[-1.34,-0.97],[-0.81,-2.53],[-0.24,-1.47],[0.33,-2.18],[0.84,-0.81],[-1.61,-1.84],[-1.07,-0.55],[-0.53,-1.98],[0.04,-1.09],[0.58,-2.76],[-1.42,-2.71],[-0.89,-1.14],[-0.33,-0.61],[0.27,-2.92],[0.79,-1.43],[-1.16,-1.62],[-0.61,-2.31],[-0.04,-0.84],
[-2.25,14.15],[-0.45,14.43],[-2.85,12.53],[-1.75,13.14],[-0.76,13.56],[-0.59,13.39],[-0.75,13.25],[-0.71,12.75],[-0.67,12.58],[-0.47,12.46],[-1.28,12.83],[-1.15,12.41],[-1.69,12.41],[-1.55,12.15],[-1.41,12.29],[-1.65,12.19],[-1.46,11.9],[-1.43,11.65],[-1.11,11.39],[-3.04,11.28],[-2.85,11.14],[-2.54,10.67],[-2.06,11.48],[-2.14,11.23],[-2.16,10.94],[-2.23,10.55],[-2.07,10.21],[-1.91,10.16],[-0.4,11.28],
[-3.26,7.29],[-3.17,6.72],[-3.08,6.45],[-2.93,8.53],[-2.9,7.73],[-2.89,7.17],[-2.64,8.02],[-2.57,7.21],[-2.4,9.45],[-2.34,9.37],[-2.41,9.2],[-2.46,8.73],[-2.39,8.53],
[0.31,14.82],[0.49,14.18],[0.64,14.27],[0.77,14.56],[0.99,14.49],[4.92,14.91],[-0.27,13.37],[-0.21,12.41],[-0.05,12.07],[0.08,12.75],[0.02,11.62],[0.19,11.44],[0.23,11.57],[0.51,12.15],[0.5,11.43],[1.19,13.05],[1.39,12.83],[1.33,12.24],[1.23,11.36],[1.22,10.72],[1.7,11.28],[1.83,11.09],[1.7,10.68],[1.8,10.13],[1.68,9.71],[0.73,10.63],[0.75,10.08],[0.62,9.62],[2.91,11.6],[2.41,10.35],[2.74,9.87],[4.25,11.44],[3.71,10.67],[4.56,10.13],[1.47,9.25],[1.03,9.11],[1.1,9.25],[1.26,8.9],[1.32,8.73],[2.16,8.81],[2.18,8.9],[2.1,8.35],[2.07,7.93],[2.46,8.95],[3.3,8.58],[3.9,9.03],[4.33,8.78],[2.55,7.98],[2.72,7.68],[2.62,7.29],[3.17,6.83],[3.54,6.29],[3.64,7.12],[4.0,6.87],[4.18,7.14],[2.81,6.66],[3.04,6.07],
[6.0,9.2],[5.6,7.8],[5.26,6.66],[7.83,6.97],[9.86,6.55],[5.79,4.86],[6.24,5.03],[8.6,5.28],[5.54,3.28],[5.63,3.28],[5.9,3.17],[6.49,3.37],[7.7,4.08],[8.91,4.08],[8.39,3.37],[6.46,2.27],[7.61,2.07],[9.58,2.24],[5.72,1.51],[6.21,1.21],[6.84,0.84],[5.22,0.89],[5.47,0.24],[7.73,0.45],[8.43,0.5],[7.47,0.04],[8.87,0.08],[4.96,-0.57],[6.57,-0.94],[5.03,-1.83],[6.46,-1.92],[6.04,-2.57],
[4.34,5.57],[3.89,5.26],[4.02,4.75],[4.03,4.25],[3.64,4.42],[3.34,4.55],[3.44,4.38],[3.48,4.13],[3.67,3.54],[4.26,2.36],[4.67,2.32],[4.68,1.43],[4.57,0.53],[3.71,0.45],[3.56,0.67],[3.62,1.34],[3.65,1.18],[3.39,-0.94],[4.17,-1.66],[4.34,-1.87],[4.37,-1.99],[3.99,-2.24],[4.85,-1.16],[2.81,-0.52],[2.9,-1.36],[2.87,-1.44],[3.1,-1.19],[2.97,-0.99],[2.23,-1.87],[2.34,-1.53],[1.88,-3.13],[1.91,-3.3],[2.23,-3.22],[2.24,-3.47],[1.91,-3.64],[2.98,-3.89],
[2.69,4.72],[2.81,4.22],[2.92,3.37],[3.04,2.7],[3.15,2.19],[3.33,1.51],[3.04,0.92],[2.81,0.5],[3.27,0.24],[3.15,1.09],[3.41,5.23],[3.32,3.03],[3.47,2.36],
[3.29,-4.88],[2.69,-6.6],[3.26,-7.22],[3.0,-8.68],[2.42,-9.5],[1.95,-5.55],[2.09,-5.38],[2.14,-5.62],[2.23,-5.51],[2.31,-5.38],[2.09,-7.61],[2.17,-7.58],[2.23,-7.24],[2.34,-7.31],[1.7,-7.27],[1.7,-7.48],[1.69,-6.31],[1.44,-6.35],[1.62,-4.91],[1.6,-5.75],[1.45,-5.64],[1.35,-5.84],[1.78,-4.57],[1.28,-7.02],[1.17,-7.61],[1.22,-8.24],[1.36,-8.66],[1.06,-9.55],[0.65,-9.05],[0.65,-9.52],[0.24,-9.18],[0.34,-8.42],[0.06,-9.94],[-0.25,-9.35],[-0.02,-7.31],[0.4,-7.24],[0.7,-7.53],[0.59,-6.68],[0.73,-6.85],[0.81,-6.43],[0.93,-6.65],[1.07,-6.77],
[0.5,-5.75],[0.58,-5.28],[0.68,-5.84],[0.93,-5.72],[0.91,-5.96],[1.07,-5.72],[0.77,-5.11],[0.9,-4.49],[1.19,-4.7],[1.32,-4.87],[1.31,-4.54],[1.62,-4.4],
[-0.55,-5.92],[-0.42,-6.4],[-0.28,-6.17],[-0.31,-5.67],[-0.38,-5.84],[-0.54,-5.25],[-0.37,-4.91],[-0.2,-4.49],[-0.63,-6.22],[-0.53,-5.28],[-1.19,-4.65],[-1.06,-4.4],[-0.9,-4.4],
[-3.41,-7.58],[-3.11,-7.95],[-2.91,-4.77],[-2.72,-4.62],[-2.52,-5.55],[-2.61,-5.97],[-2.23,-4.79],[-2.22,-7.75],[-2.09,-7.78],[-2.18,-8.54],[-1.83,-8.03],[-1.75,-7.95],[-1.64,-8.71],[-1.66,-8.96],[-1.54,-7.61],[-1.4,-7.53],[-1.46,-6.4],[-1.41,-6.8],[-1.22,-6.46],[-1.61,-5.28],[-1.79,-4.65],[-1.67,-4.74],[-1.56,-4.43],[-1.42,-4.43],[-1.19,-5.62],[-1.06,-5.84],[-0.98,-5.67],[-0.8,-5.75],[-0.76,-5.45],[-0.99,-7.44],[-0.77,-7.19],[-0.75,-7.27],[-0.89,-7.95],[-0.81,-7.9],[-0.95,-9.3],[-0.8,-9.59],
[-3.43,3.46],[-3.23,1.04],[-3.38,-1.36],[-3.38,-1.9],[-3.24,5.7],[-3.06,5.57],[-2.93,5.31],[-2.79,5.23],[-3.04,3.88],[-2.82,4.3],[-3.08,1.89],[-2.91,1.94],[-2.85,2.7],[-2.88,-0.85],[-2.81,-0.82],[-2.71,-1.1],[-3.04,0.16],[-2.81,-2.71],[-2.73,-2.54],[-2.58,-1.7],[-2.62,-1.87],[-3.17,-4.06],[-2.91,-3.64],[-2.4,-2.46],[-2.32,-2.54],[-2.22,-2.75],[-2.1,-3.22],[-1.99,-2.93]
];

// ---------- CHART ----------
const SERIF = '"Liberation Serif", "Times New Roman", serif';
const arrowFrom = [6.31, 8.64];
const arrowTo = [4.94, 2.97];

const overlay = {
  id: 'overlay',
  beforeDraw(chart) {
    const c = chart.ctx;
    c.save();
    c.fillStyle = '#fff';
    c.fillRect(0, 0, chart.width, chart.height);
    c.strokeStyle = '#e3ecec';
    c.lineWidth = 2;
    c.strokeRect(2, 2, chart.width - 4, chart.height - 4);
    c.restore();
  },
  afterDraw(chart) {
    const c = chart.ctx, xs = chart.scales.x, ys = chart.scales.y;
    const F = (st, sz) => st + ' ' + sz + 'px ' + SERIF;
    c.save();
    c.fillStyle = '#000';
    c.textAlign = 'left';
    c.textBaseline = 'alphabetic';
    const put = (t, f, x, y) => { c.font = f; c.fillText(t, x, y); return c.measureText(t).width; };

    // x-axis title: D^E, excess E-share
    let x = 397, y = 623;
    x += put('D', F('italic', 33), x, y);
    x += put('E', F('italic', 22), x - 1, y - 16);
    x += put(', excess ', F('normal', 33), x, y);
    put('E-share', F('italic', 33), x, y);

    // y-axis title
    c.save();
    c.translate(55, 288.5);
    c.rotate(-Math.PI / 2);
    c.textAlign = 'center';
    c.font = F('italic', 33);
    c.fillText('g, growth', 0, 0);
    c.restore();

    // annotation K^g(D^E, 0.6)
    put('K', F('italic', 38), 702, 176);
    put('g', F('italic', 25), 728, 157);
    put('(', F('normal', 38), 740, 176);
    put('D', F('italic', 38), 751, 176);
    put('E', F('italic', 25), 769, 156);
    put(', 0.6)', F('normal', 38), 790, 176);

    // N text
    c.font = F('italic', 29);
    const wN = c.measureText('N').width;
    c.font = F('normal', 29);
    const wR = c.measureText(' = 3,120').width;
    const sx = 785 - (wN + wR) / 2;
    put('N', F('italic', 29), sx, 470);
    put(' = 3,120', F('normal', 29), sx + wN, 470);
    c.textAlign = 'center';
    c.font = F('normal', 28.5);
    c.fillText('53 extreme obs deleted', 785, 510);

    // arrow
    const x0 = xs.getPixelForValue(arrowFrom[0]), y0 = ys.getPixelForValue(arrowFrom[1]);
    const x1 = xs.getPixelForValue(arrowTo[0]), y1 = ys.getPixelForValue(arrowTo[1]);
    c.strokeStyle = '#000';
    c.lineWidth = 1.3;
    c.beginPath(); c.moveTo(x0, y0); c.lineTo(x1, y1); c.stroke();
    const a = Math.atan2(y1 - y0, x1 - x0), L = 11, s = 0.42;
    c.beginPath();
    c.moveTo(x1 - L * Math.cos(a - s), y1 - L * Math.sin(a - s));
    c.lineTo(x1, y1);
    c.lineTo(x1 - L * Math.cos(a + s), y1 - L * Math.sin(a + s));
    c.stroke();
    c.restore();
  }
};

const toPts = (xsArr, ysArr) => xsArr.map((v, i) => ({ x: v, y: ysArr[i] }));

new Chart(document.getElementById('c'), {
  type: 'scatter',
  data: {
    datasets: [
      { label: 'K', data: toPts(kernelX, kernelFit), showLine: true, borderColor: '#000', borderWidth: 5, pointRadius: 0, fill: false, order: 1 },
      { label: 'upper', data: toPts(kernelX, kernelUpper), showLine: true, borderColor: '#000', borderWidth: 1.3, pointRadius: 0, fill: false, order: 2 },
      { label: 'lower', data: toPts(kernelX, kernelLower), showLine: true, borderColor: '#000', borderWidth: 1.3, pointRadius: 0, fill: false, order: 3 },
      { label: 'g=0', data: [{ x: xRange[0], y: 0 }, { x: xRange[1], y: 0 }], showLine: true, borderColor: '#000', borderWidth: 2.5, pointRadius: 0, order: 4 },
      { label: 'D=0', data: [{ x: 0, y: yRange[0] }, { x: 0, y: yRange[1] }], showLine: true, borderColor: '#000', borderWidth: 2.5, pointRadius: 0, order: 5 },
      { label: 'obs', data: observations.map(p => ({ x: p[0], y: p[1] })), pointRadius: 4, pointBorderWidth: 1.4, pointBorderColor: 'rgba(120,120,120,0.85)', pointBackgroundColor: 'rgba(0,0,0,0)', showLine: false, order: 10 }
    ]
  },
  options: {
    responsive: false,
    animation: false,
    devicePixelRatio: 1,
    layout: { padding: { top: 27, right: 24, left: 0, bottom: 0 } },
    plugins: { legend: { display: false }, tooltip: { enabled: false } },
    scales: {
      x: {
        type: 'linear', min: xRange[0], max: xRange[1],
        afterBuildTicks: ax => { ax.ticks = xTicks.map(v => ({ value: v })); },
        afterFit: s => { s.height = 99; },
        grid: { color: '#c3c3c3', lineWidth: 1.4, drawTicks: false },
        border: { display: false, dash: [6, 4] },
        ticks: { font: { family: SERIF, size: 33 }, color: '#000', padding: 9, maxRotation: 0, autoSkip: false }
      },
      y: {
        type: 'linear', min: yRange[0], max: yRange[1],
        afterBuildTicks: ax => { ax.ticks = yTicks.map(v => ({ value: v })); },
        afterFit: s => { s.width = 125; },
        grid: { color: '#c3c3c3', lineWidth: 1.4, drawTicks: false },
        border: { display: false, dash: [6, 4] },
        ticks: { font: { family: SERIF, size: 33 }, color: '#000', padding: 6, autoSkip: false }
      }
    }
  },
  plugins: [overlay]
});
</script>
</body>
</html>
